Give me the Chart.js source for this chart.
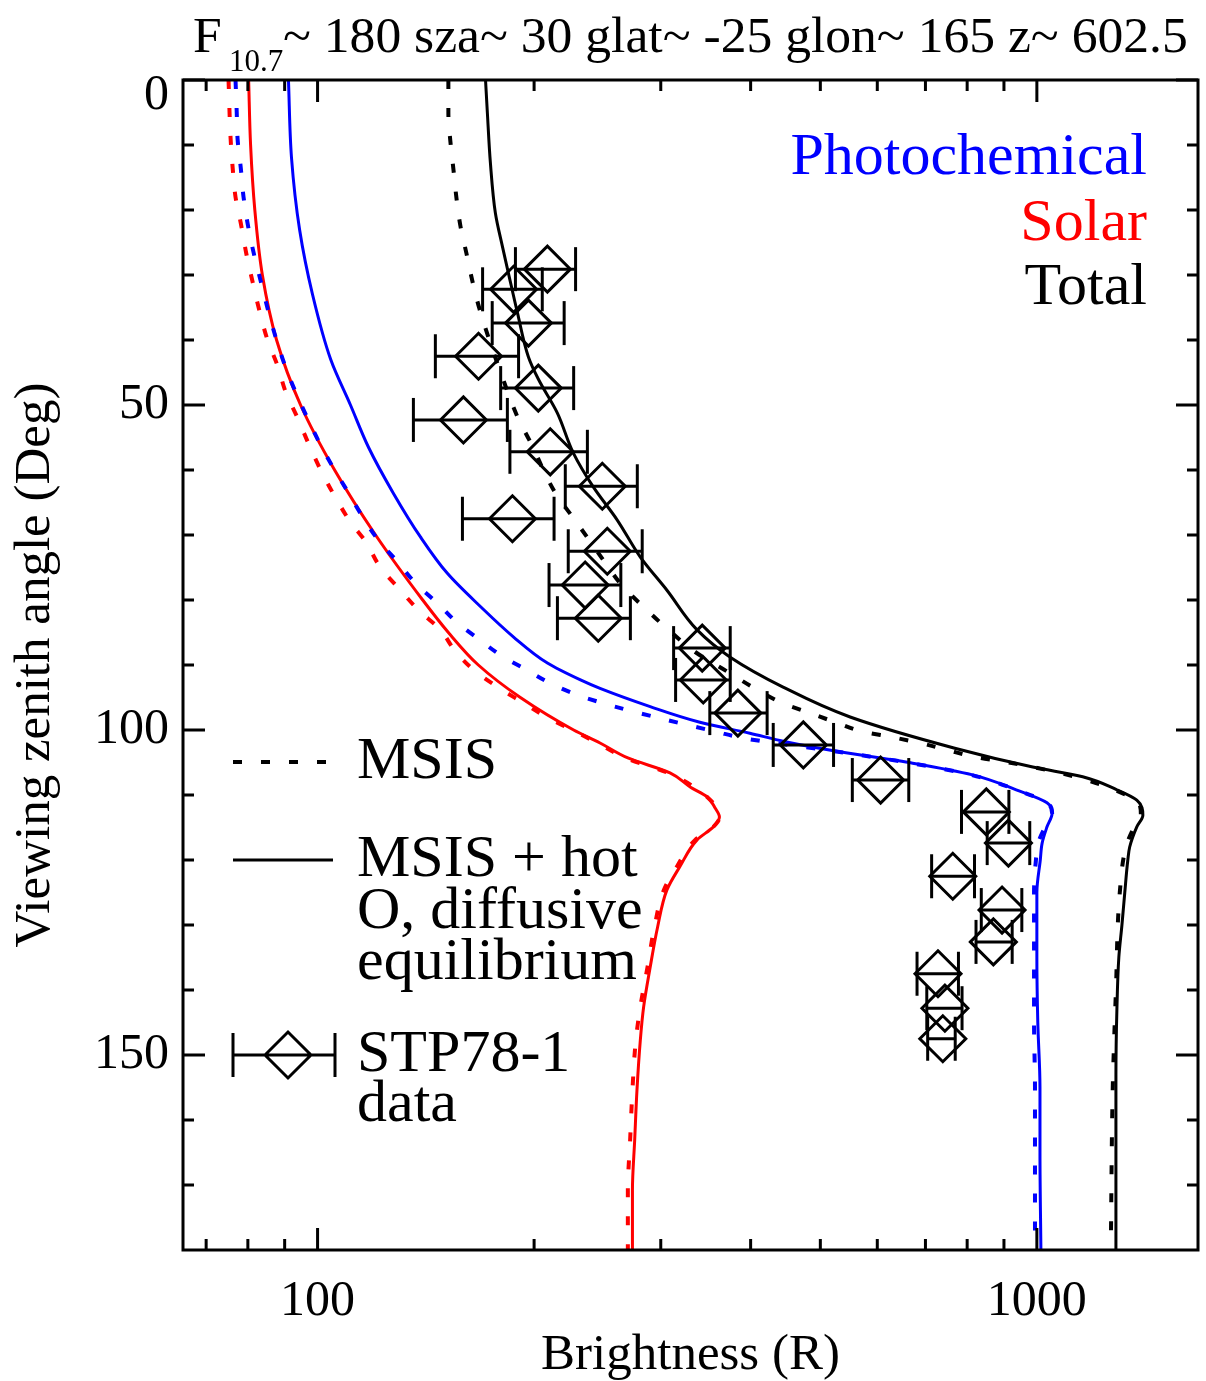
<!DOCTYPE html>
<html>
<head>
<meta charset="utf-8">
<script src="https://cdn.jsdelivr.net/npm/chart.js@4.4.0/dist/chart.umd.min.js"></script>
<style>
  html, body { margin: 0; padding: 0; background: #fff; }
  #wrap { width: 1206px; height: 1381px; }
</style>
</head>
<body>
<div id="wrap"><canvas id="chart" width="1206" height="1381"></canvas></div>
<script>
const SERIF = '"Liberation Serif", "Times New Roman", serif';
const BLUE = '#0000ff';
const RED = '#ff0000';

// axis ticks
const xMajor = [100, 1000];
const xMinor = [70, 80, 90, 200, 300, 400, 500, 600, 700, 800, 900];
const yMajor = [0, 50, 100, 150];
const yMinor = [10, 20, 30, 40, 60, 70, 80, 90, 110, 120, 130, 140, 160, 170];

// Solar, MSIS + hot O (solid)
const solarHotAng = [0, 10, 20, 30, 40, 50, 60, 70, 80, 85, 90, 95, 100, 102, 104.3, 106.6, 108.8, 110.3, 112, 113.4, 114.9, 116.9, 121, 124.6, 130.3, 136.5, 142.6, 147.7, 155.4, 163, 170.8, 180];
const solarHotVal = [80.2, 80.7, 81.8, 83.8, 87.7, 94.7, 105.6, 120.4, 140, 152, 167.3, 191.4, 227, 247, 270, 309, 330, 348, 357, 362, 355, 337, 319, 306, 297, 290, 284, 281, 278, 276, 274, 274];

// Solar, MSIS (dashed)
const solarMsisAng = [0, 9, 13.5, 18, 22, 27, 31, 35, 40, 44, 48, 52, 56, 60, 64, 68, 71, 75, 78.5, 81.5, 84.6, 87.7, 90.8, 93.4, 95.8, 98, 100, 102, 104.3, 106.6, 110.3, 113.4, 114.9, 116.9, 121, 124.6, 130.3, 136.5, 142.6, 147.7, 155.4, 163, 170.8, 180];
const solarMsisVal = [75.2, 75.7, 76.2, 76.9, 78.2, 79.7, 81.2, 82.8, 85.2, 88.0, 90.3, 93.8, 97.2, 101, 105.6, 111.1, 116.6, 122.3, 130.4, 138, 148.2, 155, 165, 178, 193, 208, 226, 245, 268, 307, 348, 362, 355, 335, 316, 303, 294, 287.5, 281, 277, 274, 272, 270, 270];

// Photochemical, MSIS + hot O (solid)
const photoHotAng = [0, 12, 23, 33, 43, 50, 56.5, 63.6, 70.3, 75.9, 81, 85.7, 89.7, 92.3, 93.6, 96.4, 98.8, 100.5, 101.8, 103.3, 105.1, 106.9, 109.2, 111.2, 112.8, 114.9, 117.4, 120, 125, 135, 145, 155, 165, 180];
const photoHotVal = [91.1, 92.0, 94.4, 98.4, 104.3, 111.1, 117.7, 127.5, 139, 151.5, 168.4, 187.3, 208.7, 232, 247, 290, 340, 399, 447, 529, 672, 814, 936, 1033, 1050, 1033, 1017, 1011, 1000, 1000, 1003, 1010, 1010, 1013];

// Photochemical, MSIS (dashed)
const photoMsisAng = [0, 5, 9, 13.5, 18, 22.3, 26.6, 30.8, 35.1, 39.5, 43.8, 48, 52, 55.8, 59.7, 63.3, 67.2, 70.8, 74.1, 77.4, 80.5, 83.5, 86.2, 88.5, 90.8, 92.8, 94.6, 96.4, 98.2, 100.3, 101.3, 103.3, 105.1, 106.9, 109.2, 111.2, 112.8, 114.9, 117.4, 120, 125, 135, 145, 155, 165, 180];
const photoMsisVal = [76.9, 77.2, 77.4, 78.2, 78.9, 80.0, 81.5, 83.3, 85.2, 87.4, 90.0, 93.2, 96.8, 100.6, 105.2, 110.1, 115.5, 121.5, 129.1, 136.8, 146.8, 156.4, 168.4, 179.7, 195.6, 210.6, 229.6, 259, 299.6, 359, 393, 526, 668, 810, 936, 1033, 1050, 1027, 1004, 997, 991, 991, 991, 994, 994, 994];

// Total, MSIS + hot O (solid)
const totalHotAng = [0, 5, 12.8, 20.5, 25.6, 29.7, 35.8, 42.6, 46, 51.2, 57.4, 62.6, 67.7, 73.4, 78.5, 84.6, 88.8, 93.4, 98, 102.8, 105.7, 107.2, 109.2, 110.8, 113.1, 114.9, 118, 120, 125, 130, 135, 143, 153, 180];
const totalHotVal = [171.2, 172.2, 173.9, 176.7, 180.7, 184.2, 189.6, 196.4, 202.7, 215.4, 226.8, 241.7, 261, 281, 306, 337, 374.7, 443.8, 550, 769, 987, 1158, 1292, 1377, 1404, 1377, 1346, 1338, 1325, 1313, 1300, 1292, 1288, 1288];

// Total, MSIS (dashed)
const totalMsisAng = [0, 5, 9.5, 13.8, 18.2, 22.5, 26.6, 31, 35.2, 40, 45, 51.8, 55.7, 63.5, 67.2, 71, 74.3, 78, 81, 84, 88, 91, 93.8, 95.9, 97.4, 98.9, 100.3, 101.1, 102, 103.1, 104.2, 104.9, 105.7, 106.6, 107.7, 109.2, 111.5, 113.1, 115, 118, 125, 140, 155, 180];
const totalMsisVal = [152, 152, 153, 154.5, 156, 158, 161, 164.2, 167.9, 173.3, 179.7, 189.6, 197.6, 214, 226.1, 239.4, 251.2, 266.1, 283.6, 303.3, 335, 371, 408.4, 443.8, 483.8, 527.6, 575, 629, 688, 752, 825, 903, 987, 1076, 1173, 1283, 1390, 1395, 1364, 1330, 1304, 1288, 1275, 1267];

// STP78-1 data
const obsAng = [29.1, 32.2, 37.4, 42.5, 47.4, 52.3, 57.2, 62.5, 67.5, 72.5, 77.7, 82.8, 87.4, 92.3, 97.4, 102.3, 107.7, 112.6, 117.4, 122.5, 127.7, 132.6, 137.5, 142.8, 147.5];
const obsVal = [208.7, 187.3, 196.4, 167.4, 202.7, 159.5, 210.6, 248.8, 186.6, 252.8, 235.5, 245.6, 342.6, 343.7, 384, 473.5, 606.4, 850.6, 913, 764, 894.5, 870, 728.7, 745, 740];
const obsLo = [188.4, 169.6, 174.9, 145.8, 179.7, 135.9, 185.1, 221, 159, 223.1, 209.8, 215.5, 312.6, 314.6, 351, 430, 553.9, 785.7, 853, 714, 837, 823, 681.4, 703, 705];
const obsHi = [228.4, 205.3, 220.2, 190.3, 227, 183.6, 237.2, 278.3, 213.2, 282.7, 264, 272.2, 374.7, 374.7, 421.7, 521.6, 663.6, 914.3, 977.5, 819, 953, 924, 778, 787, 770];

const pairs = (ang, val) => ang.map((a, i) => ({ x: val[i], y: a }));

function curve(ang, val, color, dashed, order) {
    return {
        data: pairs(ang, val),
        showLine: true,
        borderColor: color,
        borderWidth: dashed ? 4 : 3,
        borderDash: dashed ? [9, 19] : [],
        pointRadius: 0,
        cubicInterpolationMode: 'monotone',
        order: order
    };
}

const errorBars = [];
obsAng.forEach((a, i) => {
    errorBars.push({ x: obsLo[i], y: a }, { x: obsHi[i], y: a }, { x: NaN, y: NaN });
});

const frameAndText = {
    id: 'frameAndText',
    afterDatasetsDraw(chart) {
        const { ctx, chartArea: a, scales: { x, y } } = chart;
        ctx.save();
        ctx.strokeStyle = '#000';
        ctx.lineWidth = 3;
        ctx.lineCap = 'butt';
        ctx.strokeRect(a.left, a.top, a.right - a.left, a.bottom - a.top);

        ctx.beginPath();
        const xt = (v, len) => {
            const px = x.getPixelForValue(v);
            ctx.moveTo(px, a.bottom); ctx.lineTo(px, a.bottom - len);
            ctx.moveTo(px, a.top); ctx.lineTo(px, a.top + len);
        };
        const yt = (v, len) => {
            const py = y.getPixelForValue(v);
            ctx.moveTo(a.left, py); ctx.lineTo(a.left + len, py);
            ctx.moveTo(a.right, py); ctx.lineTo(a.right - len, py);
        };
        xMajor.forEach(v => xt(v, 22));
        xMinor.forEach(v => xt(v, 11));
        yMajor.forEach(v => yt(v, 22));
        yMinor.forEach(v => yt(v, 11));
        ctx.stroke();

        // the top "0" label sits a little below its tick, as in the original
        ctx.fillStyle = '#000';
        ctx.font = '50px ' + SERIF;
        ctx.textAlign = 'right';
        ctx.textBaseline = 'middle';
        ctx.fillText(String(yMajor[0]), 169, y.getPixelForValue(yMajor[0]) + 16);

        // title with subscript
        ctx.textBaseline = 'alphabetic';
        ctx.textAlign = 'left';
        ctx.font = '51.6px ' + SERIF;
        ctx.fillText('F', 193, 52);
        ctx.font = '31px ' + SERIF;
        ctx.fillText('10.7', 229, 71);
        ctx.font = '51.6px ' + SERIF;
        ctx.fillText('~ 180 sza~ 30 glat~ -25 glon~ 165 z~ 602.5', 283, 52);

        // component labels, top right
        ctx.font = '60px ' + SERIF;
        ctx.textAlign = 'right';
        ctx.textBaseline = 'middle';
        ctx.fillStyle = BLUE; ctx.fillText('Photochemical', 1147, 158);
        ctx.fillStyle = RED; ctx.fillText('Solar', 1147, 224);
        ctx.fillStyle = '#000'; ctx.fillText('Total', 1147, 288);

        // line style key, bottom left
        ctx.textAlign = 'left';
        ctx.strokeStyle = '#000';
        ctx.lineWidth = 4;
        ctx.setLineDash([9, 19]);
        ctx.beginPath(); ctx.moveTo(233, 762); ctx.lineTo(335, 762); ctx.stroke();
        ctx.setLineDash([]);
        ctx.lineWidth = 3;
        ctx.beginPath(); ctx.moveTo(233, 860); ctx.lineTo(333, 860); ctx.stroke();
        ctx.beginPath();
        ctx.moveTo(233, 1055); ctx.lineTo(335, 1055);
        ctx.moveTo(233, 1033); ctx.lineTo(233, 1077);
        ctx.moveTo(335, 1033); ctx.lineTo(335, 1077);
        ctx.moveTo(265, 1055); ctx.lineTo(288, 1032); ctx.lineTo(311, 1055); ctx.lineTo(288, 1078); ctx.closePath();
        ctx.stroke();
        ctx.fillText('MSIS', 357, 762);
        ctx.fillText('MSIS + hot', 357, 860);
        ctx.fillText('O, diffusive', 357, 912);
        ctx.fillText('equilibrium', 357, 963);
        ctx.fillText('STP78-1', 357, 1055);
        ctx.fillText('data', 357, 1105);
        ctx.restore();
    }
};

new Chart(document.getElementById('chart'), {
    type: 'scatter',
    data: {
        datasets: [
            {
                data: pairs(obsAng, obsVal),
                pointStyle: 'rectRot',
                pointRadius: 23,
                pointHoverRadius: 23,
                pointBorderWidth: 3,
                pointBorderColor: '#000',
                pointBackgroundColor: 'rgba(0,0,0,0)',
                showLine: false,
                order: 0
            },
            {
                data: errorBars,
                showLine: true,
                spanGaps: false,
                borderColor: '#000',
                borderWidth: 3,
                pointStyle: 'line',
                rotation: 90,
                pointRadius: 22,
                pointHoverRadius: 22,
                pointBorderWidth: 3,
                pointBorderColor: '#000',
                order: 1
            },
            curve(totalHotAng, totalHotVal, '#000', false, 2),
            curve(totalMsisAng, totalMsisVal, '#000', true, 3),
            curve(photoHotAng, photoHotVal, BLUE, false, 4),
            curve(photoMsisAng, photoMsisVal, BLUE, true, 5),
            curve(solarHotAng, solarHotVal, RED, false, 6),
            curve(solarMsisAng, solarMsisVal, RED, true, 7)
        ]
    },
    options: {
        indexAxis: 'y',
        responsive: false,
        animation: false,
        devicePixelRatio: 1,
        layout: { autoPadding: false, padding: { top: 80, right: 8, left: 0, bottom: 0 } },
        plugins: { legend: { display: false }, tooltip: { enabled: false } },
        scales: {
            x: {
                type: 'logarithmic',
                min: 65,
                max: 1675,
                afterBuildTicks: axis => { axis.ticks = xMajor.map(v => ({ value: v })); },
                afterFit: scale => {
                    scale.height = 131;
                    scale.paddingLeft = 0;
                    scale.paddingRight = 0;
                },
                grid: { display: false },
                border: { display: false },
                ticks: {
                    color: '#000',
                    font: { family: SERIF, size: 50 },
                    padding: 14,
                    maxRotation: 0,
                    callback: v => String(v)
                },
                title: {
                    display: true,
                    text: 'Brightness (R)',
                    color: '#000',
                    font: { family: SERIF, size: 51, lineHeight: 1.0 },
                    padding: { top: 0, bottom: 0 }
                }
            },
            y: {
                type: 'linear',
                reverse: true,
                min: 0,
                max: 180,
                afterBuildTicks: axis => { axis.ticks = yMajor.map(v => ({ value: v })); },
                afterFit: scale => {
                    scale.width = 183;
                    scale.paddingTop = 0;
                    scale.paddingBottom = 0;
                },
                grid: { display: false },
                border: { display: false },
                ticks: {
                    color: '#000',
                    font: { family: SERIF, size: 50 },
                    padding: 6,
                    callback: v => (v === yMajor[0] ? '' : String(v))
                },
                title: {
                    display: true,
                    text: 'Viewing zenith angle (Deg)',
                    color: '#000',
                    font: { family: SERIF, size: 51, lineHeight: 1.1 },
                    padding: { top: 8, bottom: 0 }
                }
            }
        }
    },
    plugins: [frameAndText]
});
</script>
</body>
</html>
